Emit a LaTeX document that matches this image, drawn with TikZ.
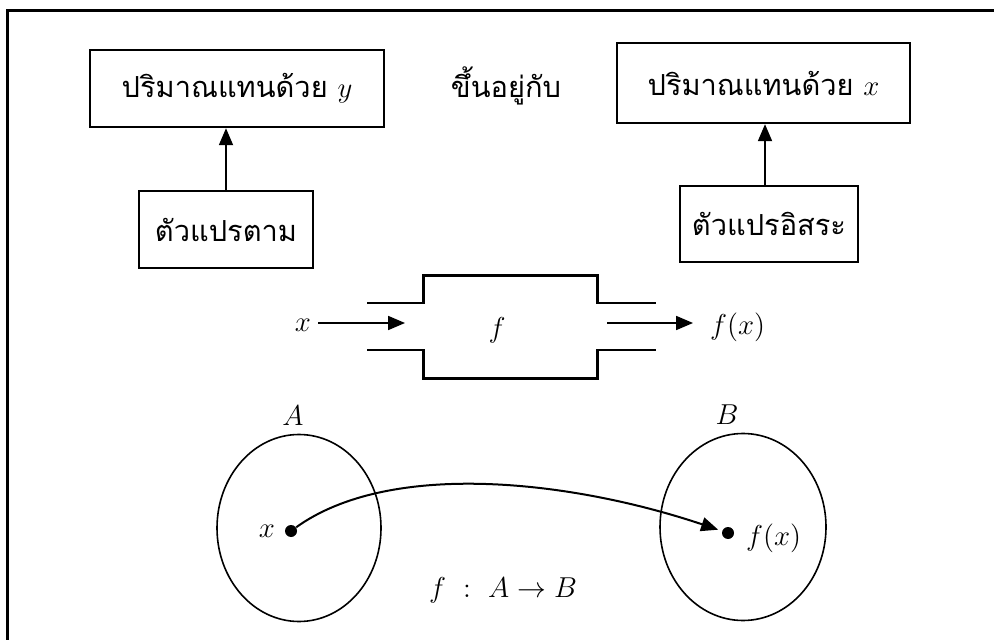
\documentclass[tikz,border=0pt]{standalone}
\usepackage{fontspec}
\newfontfamily\thaifont[Script=Thai]{Loma}
\usetikzlibrary{arrows.meta,shapes.geometric}

\begin{document}
\begin{tikzpicture}[x=0.5pt, y=-0.5pt,
  tbox/.style={draw, line width=1.2pt, inner sep=0pt, font=\thaifont\fontsize{14.5}{18}\selectfont},
  tri/.style={-{Triangle[length=8.5pt, width=7pt]}, line width=0.9pt},
  set/.style={draw, ellipse, line width=0.8pt, inner sep=0pt},
  pt/.style={circle, fill, inner sep=0pt, minimum size=6pt},
  mlab/.style={font=\fontsize{14}{16}\selectfont}]

  \useasboundingbox (0,0) rectangle (994,640);

  % -- Frame (top and left edges only) --
  \draw[line width=1.5pt] (7,640) -- (7,11) -- (994,11);

  % -- Dependent / independent boxes --
  \node[tbox, minimum width=147pt, minimum height=38.5pt] (qy) at (237,88.5) {ปริมาณแทนด้วย $y$};
  \node[tbox, minimum width=146.5pt, minimum height=40pt] (qx) at (763.5,83) {ปริมาณแทนด้วย $x$};
  \node[font=\thaifont\fontsize{14.5}{18}\selectfont] (dep) at (506,86) {ขึ้นอยู่กับ};
  \node[tbox, minimum width=87pt, minimum height=38.5pt] (vy) at (226,229.5) {ตัวแปรตาม};
  \node[tbox, minimum width=89pt, minimum height=38pt] (vx) at (769,224) {ตัวแปรอิสระ};
  \draw[tri] (vy.north) -- (vy.north |- qy.south);
  \draw[tri] (vx.north -| 765,0) -- (qx.south -| 765,0);

  % -- Function machine --
  \node[minimum width=86.5pt, minimum height=51pt, inner sep=0pt] (mach) at (510.5,327) {};
  \draw[line width=1.2pt] (367,303) -- (mach.west |- 0,303) -- (mach.north west)
    -- (mach.north east) -- (mach.east |- 0,303) -- (656,303);
  \draw[line width=1.2pt] (367,350) -- (mach.west |- 0,350) -- (mach.south west)
    -- (mach.south east) -- (mach.east |- 0,350) -- (656,350);
  \node[mlab] (fin) at (497,330) {$f$};
  \node[mlab] (xin) at (303,325) {$x$};
  \coordinate (inend) at (405,323);
  \draw[tri] (xin.east |- inend) -- (inend);
  \coordinate (outstart) at (607,323);
  \coordinate (outend) at (693,323);
  \draw[tri] (outstart) -- (outend);
  \node[mlab, anchor=west] (fxout) at (703,327) {$f(x)$};

  % -- Sets A and B --
  \node[set, minimum width=82pt, minimum height=93.5pt] (setA) at (299,528) {};
  \node[set, minimum width=83pt, minimum height=93.5pt] (setB) at (743,527) {};
  \node[mlab] (labA) at (293,416) {$A$};
  \node[mlab] (labB) at (727,415) {$B$};
  \node[pt] (dotA) at (291,531) {};
  \node[pt] (dotB) at (728,533) {};
  \node[mlab] (labx) at (267,531) {$x$};
  \node[mlab, anchor=west] (labfx) at (739,538) {$f(x)$};
  \draw[tri, line width=1pt, shorten >=2pt] (dotA) .. controls (390,460) and (570,480) .. (dotB);
  \node[mlab] (map) at (503,590) {$f\ :\ A\rightarrow B$};

\end{tikzpicture}
\end{document}
